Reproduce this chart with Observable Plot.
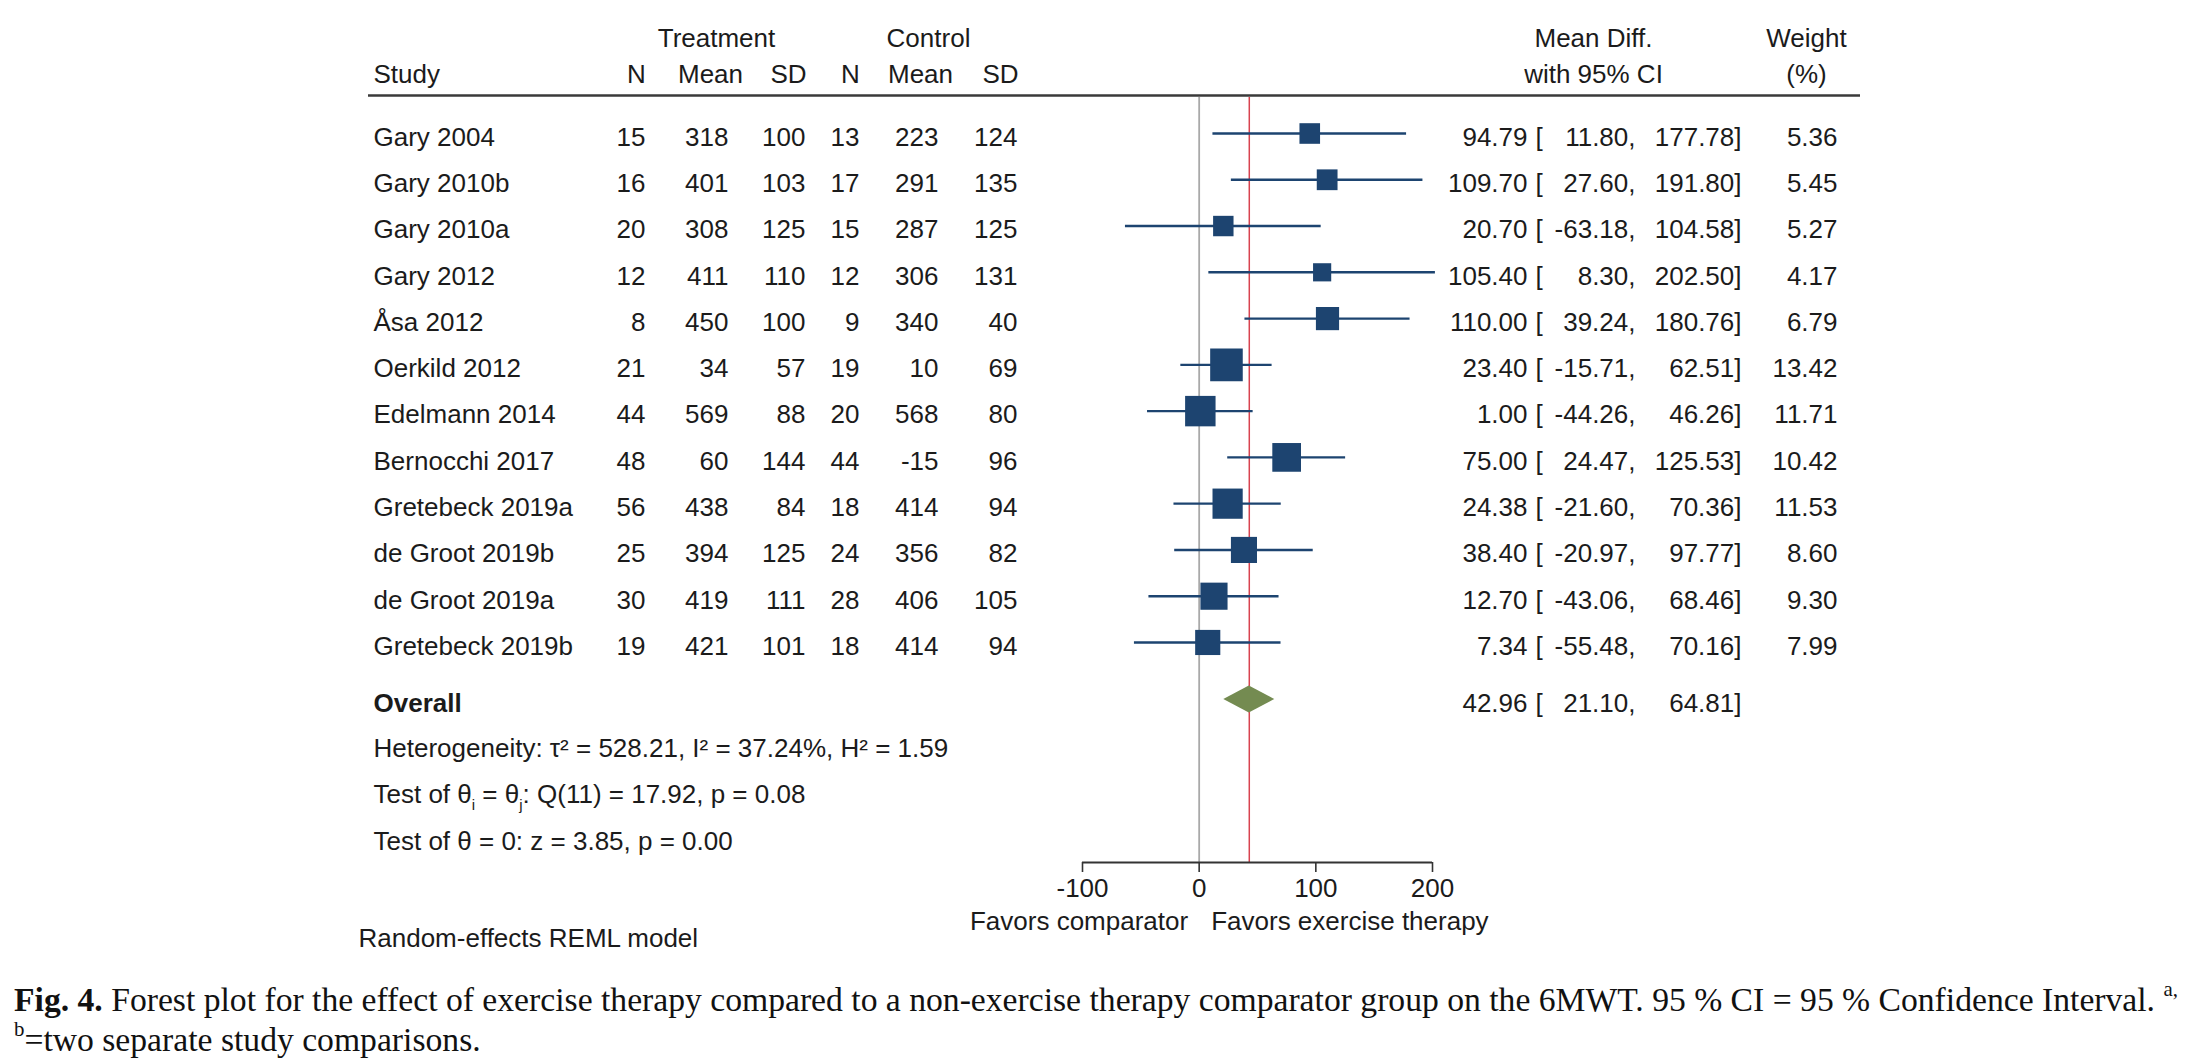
<!DOCTYPE html>
<html>
<head>
<meta charset="utf-8">
<script src="https://cdn.jsdelivr.net/npm/d3@7"></script>
<script src="https://cdn.jsdelivr.net/npm/@observablehq/plot@0.6"></script>
<style>
  html, body { margin: 0; padding: 0; background: #ffffff; }
  #chart svg { display: block; }
  #caption { font-family: "Liberation Serif", "DejaVu Serif", serif; color: #111; margin-left: 14px; line-height: 40px; padding-top: 5px; }
  #caption .l1 { white-space: nowrap; }
  #caption sup { font-size: 0.62em; line-height: 0; position: relative; top: -0.15em; vertical-align: super; }
</style>
</head>
<body>
<div id="chart"></div>
<div id="caption"></div>
<script>
// ---------------- DATA ----------------
const studyNames = ["Gary 2004", "Gary 2010b", "Gary 2010a", "Gary 2012", "Åsa 2012", "Oerkild 2012",
  "Edelmann 2014", "Bernocchi 2017", "Gretebeck 2019a", "de Groot 2019b", "de Groot 2019a", "Gretebeck 2019b"];
const treatN    = [15, 16, 20, 12, 8, 21, 44, 48, 56, 25, 30, 19];
const treatMean = [318, 401, 308, 411, 450, 34, 569, 60, 438, 394, 419, 421];
const treatSD   = [100, 103, 125, 110, 100, 57, 88, 144, 84, 125, 111, 101];
const ctrlN     = [13, 17, 15, 12, 9, 19, 20, 44, 18, 24, 28, 18];
const ctrlMean  = [223, 291, 287, 306, 340, 10, 568, -15, 414, 356, 406, 414];
const ctrlSD    = [124, 135, 125, 131, 40, 69, 80, 96, 94, 82, 105, 94];
const meanDiff  = [94.79, 109.70, 20.70, 105.40, 110.00, 23.40, 1.00, 75.00, 24.38, 38.40, 12.70, 7.34];
const ciLow     = [11.80, 27.60, -63.18, 8.30, 39.24, -15.71, -44.26, 24.47, -21.60, -20.97, -43.06, -55.48];
const ciHigh    = [177.78, 191.80, 104.58, 202.50, 180.76, 62.51, 46.26, 125.53, 70.36, 97.77, 68.46, 70.16];
const weights   = [5.36, 5.45, 5.27, 4.17, 6.79, 13.42, 11.71, 10.42, 11.53, 8.60, 9.30, 7.99];

const overallMD = 42.96, overallLow = 21.10, overallHigh = 64.81;
const tau2 = 528.21, I2 = 37.24, H2 = 1.59;
const Qdf = 11, Qstat = 17.92, Qp = 0.08;
const zStat = 3.85, zP = 0.00;
const xTicks = [-100, 0, 100, 200];

const headTop = ["Treatment", "Control", "Mean Diff.", "Weight"];
const headSub = ["Study", "N", "Mean", "SD", "N", "Mean", "SD", "with 95% CI", "(%)"];
const favorsLeft = "Favors comparator", favorsRight = "Favors exercise therapy";
const modelNote = "Random-effects REML model";

// ---------------- LAYOUT ----------------
const W = 2208, H = 975;
const ROW0 = 133, ROWH = 46.27;           // pixel centre of first study row, row pitch
const row = px => (px - ROW0) / ROWH;     // layout pixel -> row units
const AXIS_Y = 862, TOP_LINE = 95;
const FS = 26, INK = "#1b1b1b";
const NAVY = "#1d4470", OLIVE = "#748b51";
const FONT = "'Liberation Sans', Arial, Helvetica, sans-serif";

const COLX = { study: 373, tN: 645, tMean: 728, tSD: 805, cN: 859, cMean: 938, cSD: 1017,
  est: 1527, br: 1535, lo: 1635, hi: 1741, w: 1837 };
const HEADTOPX = [716, 928, 1593, 1806];
const HEADSUBX = [373, 636, 710, 788, 850, 920, 1000, 1593, 1806];

const f2 = v => v.toFixed(2);   // plain hyphen for negatives, as in the original

const rows = studyNames.map((name, i) => ({
  i, name, tN: treatN[i], tMean: treatMean[i], tSD: treatSD[i],
  cN: ctrlN[i], cMean: ctrlMean[i], cSD: ctrlSD[i],
  md: meanDiff[i], lo: ciLow[i], hi: ciHigh[i], w: weights[i]
}));
const overallRow = row(699);
const overall = [{ i: overallRow, name: "Overall", md: overallMD, lo: overallLow, hi: overallHigh }];
const halfH = 13.5 / ROWH;
const diamond = [
  { x: overallLow, y1: overallRow, y2: overallRow },
  { x: overallMD, y1: overallRow - halfH, y2: overallRow + halfH },
  { x: overallHigh, y1: overallRow, y2: overallRow }
];

const colText = (data, text, xPx, anchor, extra = {}) =>
  Plot.text(data, { y: "i", text, frameAnchor: "left", dx: xPx, dy: 4, textAnchor: anchor,
    fontSize: FS, fill: INK, ...extra });
const label = (txt, xPx, yPx, anchor, extra = {}) =>
  Plot.text([txt], { text: d => d, y: () => row(yPx + 1), frameAnchor: "left", dx: xPx,
    textAnchor: anchor, fontSize: FS, fill: INK, ...extra });

const hetText = `Heterogeneity: τ² = ${f2(tau2)}, I² = ${f2(I2)}%, H² = ${f2(H2)}`;
const thetaText = `Test of θi = θj: Q(${Qdf}) = ${f2(Qstat)}, p = ${f2(Qp)}`;
const zText = `Test of θ = 0: z = ${f2(zStat)}, p = ${f2(zP)}`;

const marks = [
  Plot.ruleY([row(TOP_LINE)], { insetLeft: 368, insetRight: W - 1860, stroke: "#3a3a3a", strokeWidth: 2.6 }),
  Plot.ruleX([0], { y1: () => row(TOP_LINE + 2), y2: () => row(AXIS_Y), stroke: "#a9a9a9", strokeWidth: 1.8 }),
  Plot.ruleX([overallMD], { y1: () => row(TOP_LINE + 2), y2: () => row(AXIS_Y), stroke: "#d8434f", strokeWidth: 1.5 }),
  Plot.ruleY(rows, { y: "i", x1: "lo", x2: "hi", stroke: NAVY, strokeWidth: 2.4 }),
  Plot.dot(rows, { x: "md", y: "i", r: "w", symbol: "square", fill: NAVY }),
  Plot.areaY(diamond, { x: "x", y1: "y1", y2: "y2", fill: OLIVE }),
  Plot.ruleY([row(AXIS_Y)], { x1: xTicks[0], x2: xTicks[xTicks.length - 1], stroke: "#333", strokeWidth: 2 }),
  Plot.axisX({ ticks: xTicks, tickFormat: d => String(d), tickSize: 10, tickPadding: 6,
    fontSize: FS, stroke: "#333", strokeWidth: 1.6, label: null, fill: INK }),

  // headers
  ...headTop.map((t, k) => label(t, HEADTOPX[k], 37, "middle")),
  ...headSub.map((t, k) => label(t, HEADSUBX[k], 73, k === 0 ? "start" : "middle")),

  // study rows
  colText(rows, "name", COLX.study, "start"),
  colText(rows, "tN", COLX.tN, "end"),
  colText(rows, "tMean", COLX.tMean, "end"),
  colText(rows, "tSD", COLX.tSD, "end"),
  colText(rows, "cN", COLX.cN, "end"),
  colText(rows, "cMean", COLX.cMean, "end"),
  colText(rows, "cSD", COLX.cSD, "end"),
  colText(rows, d => f2(d.md), COLX.est, "end"),
  colText(rows, () => "[", COLX.br, "start"),
  colText(rows, d => f2(d.lo) + ",", COLX.lo, "end"),
  colText(rows, d => f2(d.hi) + "]", COLX.hi, "end"),
  colText(rows, d => f2(d.w), COLX.w, "end"),

  // overall row
  colText(overall, "name", COLX.study, "start", { fontWeight: "bold" }),
  colText(overall, d => f2(d.md), COLX.est, "end"),
  colText(overall, () => "[", COLX.br, "start"),
  colText(overall, d => f2(d.lo) + ",", COLX.lo, "end"),
  colText(overall, d => f2(d.hi) + "]", COLX.hi, "end"),

  // statistics
  label(hetText, COLX.study, 747, "start"),
  label(thetaText, COLX.study, 793, "start"),
  label(zText, COLX.study, 840, "start"),
  label(modelNote, 358, 937, "start"),

  // favours labels
  Plot.text([favorsLeft], { x: () => 0, y: () => row(921), text: d => d, dx: -11, textAnchor: "end", fontSize: FS, fill: INK }),
  Plot.text([favorsRight], { x: () => 0, y: () => row(921), text: d => d, dx: 12, textAnchor: "start", fontSize: FS, fill: INK })
];

const chart = Plot.plot({
  width: W, height: H,
  marginTop: 0, marginLeft: 0, marginRight: 0, marginBottom: H - AXIS_Y,
  style: { fontFamily: FONT, fontSize: FS + "px", color: INK, background: "#ffffff", overflow: "visible" },
  x: { type: "linear", domain: [xTicks[0], xTicks[xTicks.length - 1]], range: [1082, 1432] },
  y: { type: "linear", domain: [0, 1], range: [ROW0, ROW0 + ROWH], axis: null },
  r: { type: "sqrt", domain: [0, 1], range: [0, 5.02] },
  marks
});
document.getElementById("chart").appendChild(chart);

// subscripts i and j in the test line
chart.querySelectorAll("text").forEach(t => {
  if (t.textContent === thetaText) {
    const NS = "http://www.w3.org/2000/svg";
    const parts = thetaText.split(/θ([ij])/);
    while (t.firstChild) t.removeChild(t.firstChild);
    parts.forEach((p, k) => {
      const ts = document.createElementNS(NS, "tspan");
      if (k % 2 === 1) {
        ts.textContent = p;
        ts.setAttribute("font-size", "15");
        ts.setAttribute("dy", "7");
      } else {
        ts.textContent = p + (k < parts.length - 1 ? "θ" : "");
        if (k > 0) ts.setAttribute("dy", "-7");
      }
      t.appendChild(ts);
    });
  }
});

// caption
const capBold = "Fig. 4.";
const capLine1 = " Forest plot for the effect of exercise therapy compared to a non-exercise therapy comparator group on the 6MWT. 95 % CI = 95 % Confidence Interval. ";
const capLine2 = "=two separate study comparisons.";
const ctx = document.createElement("canvas").getContext("2d");
ctx.font = "bold 100px 'Liberation Serif'";
let w100 = ctx.measureText(capBold).width;
ctx.font = "100px 'Liberation Serif'";
w100 += ctx.measureText(capLine1).width;
const capFS = Math.max(24, Math.min(34, 100 * 2150 / w100));
const cap = document.getElementById("caption");
cap.style.fontSize = capFS.toFixed(2) + "px";
cap.innerHTML = `<div class="l1"><b>${capBold}</b>${capLine1}<sup>a,</sup></div><div><sup>b</sup>${capLine2}</div>`;
</script>
</body>
</html>
